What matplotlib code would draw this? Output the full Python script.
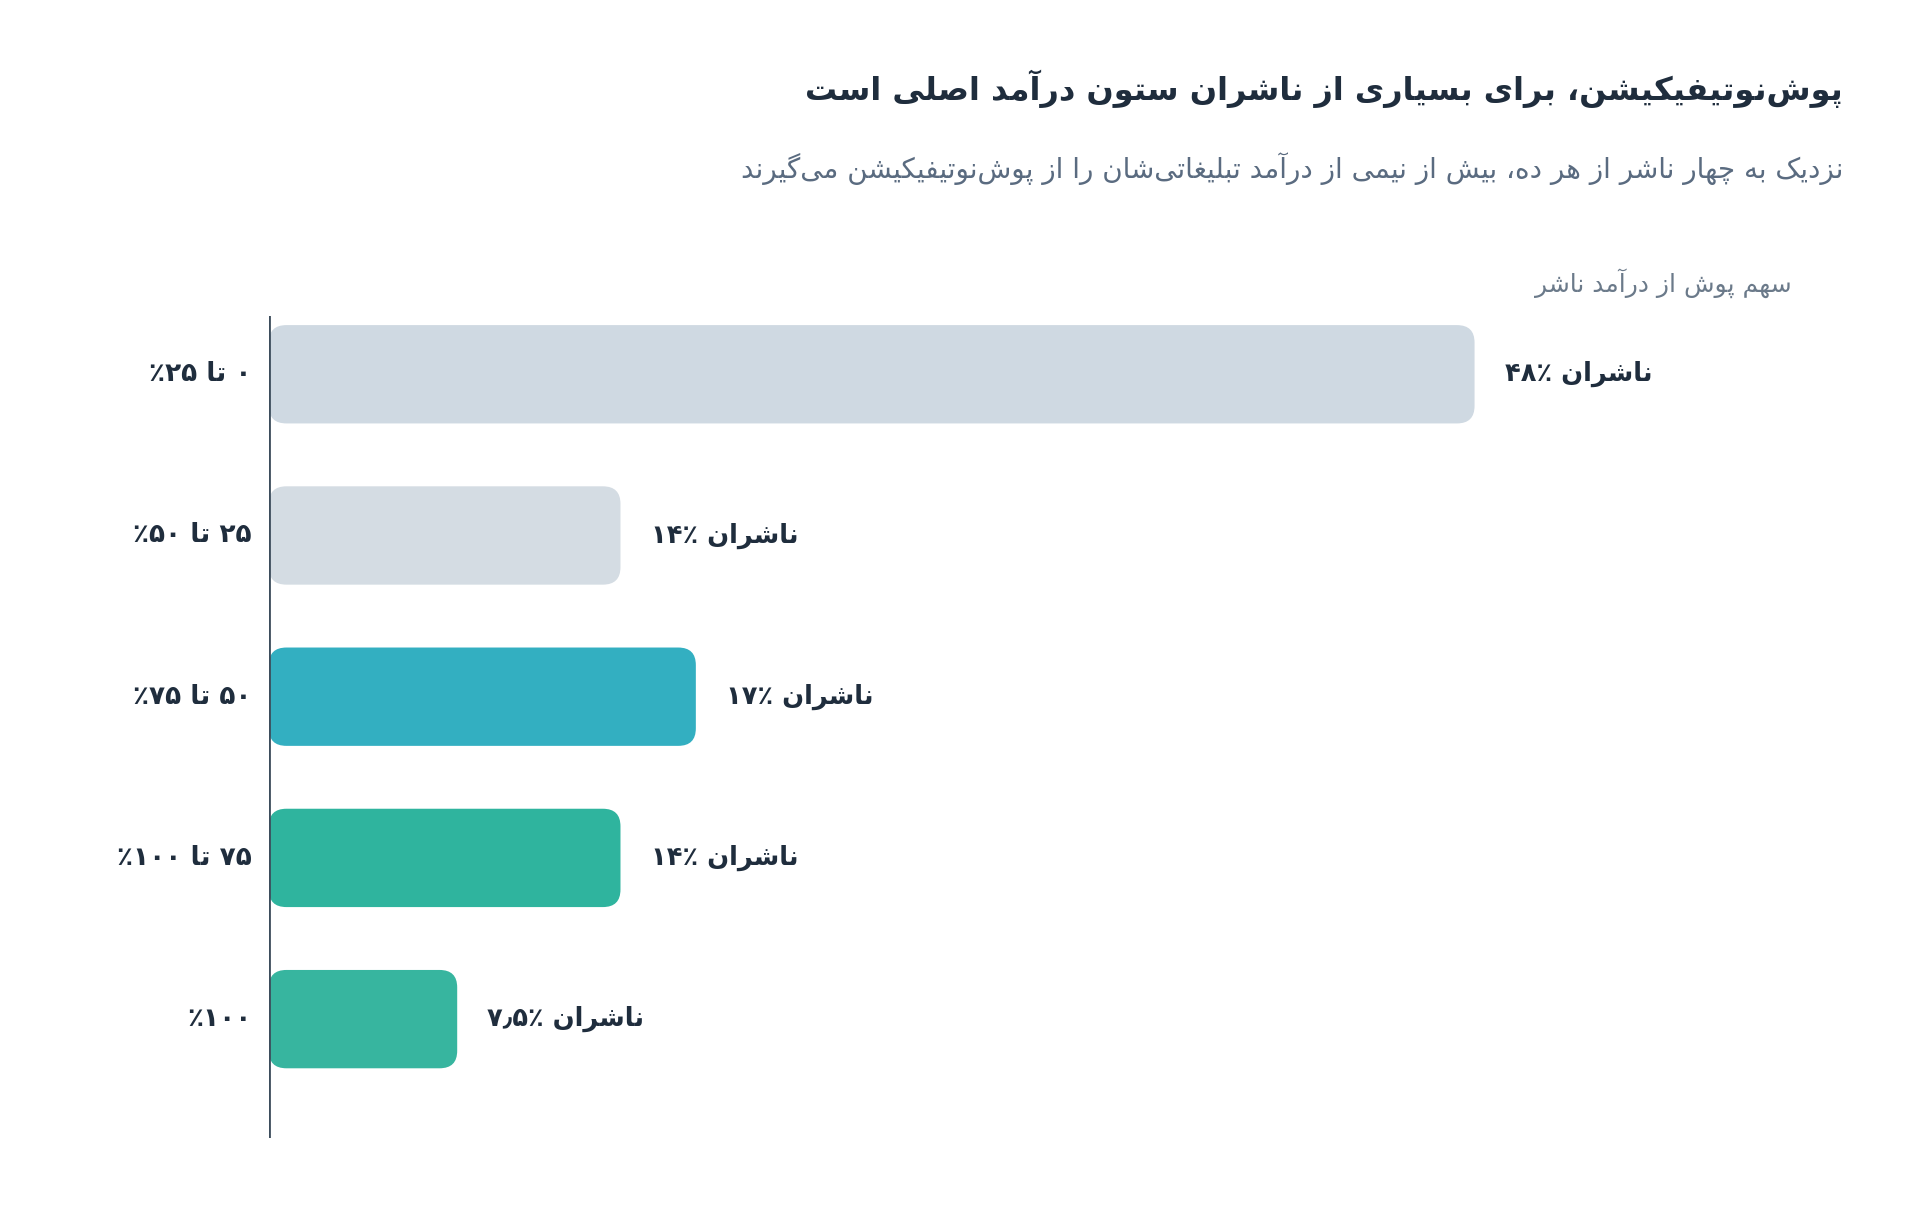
import matplotlib
import numpy as np
from matplotlib import pyplot as plt
from matplotlib.patches import FancyBboxPatch

matplotlib.use("Agg")
plt.rcParams["font.family"] = ["DejaVu Sans"]

# Data
categories = ["۰ تا ۲۵٪", "۲۵ تا ۵۰٪", "۵۰ تا ۷۵٪", "۷۵ تا ۱۰۰٪", "۱۰۰٪"]
values = [48, 14, 17, 14, 7.5]
value_labels = ["ناشران ٪۴۸", "ناشران ٪۱۴", "ناشران ٪۱۷", "ناشران ٪۱۴", "ناشران ٪۷٫۵"]
bar_colors = ["#cfd9e2", "#d4dce3", "#33afc1", "#2fb49e", "#37b59f"]
title = "پوش‌نوتیفیکیشن، برای بسیاری از ناشران ستون درآمد اصلی است"
subtitle = "نزدیک به چهار ناشر از هر ده، بیش از نیمی از درآمد تبلیغاتی‌شان را از پوش‌نوتیفیکیشن می‌گیرند"
axis_label = "سهم پوش از درآمد ناشر"

# minimal Arabic/Persian shaping: (isolated, final, initial, medial)
FORMS = {
    "ا": (0xFE8D, 0xFE8E, None, None), "آ": (0xFE81, 0xFE82, None, None),
    "ب": (0xFE8F, 0xFE90, 0xFE91, 0xFE92), "پ": (0xFB56, 0xFB57, 0xFB58, 0xFB59),
    "ت": (0xFE95, 0xFE96, 0xFE97, 0xFE98), "ث": (0xFE99, 0xFE9A, 0xFE9B, 0xFE9C),
    "ج": (0xFE9D, 0xFE9E, 0xFE9F, 0xFEA0), "چ": (0xFB7A, 0xFB7B, 0xFB7C, 0xFB7D),
    "ح": (0xFEA1, 0xFEA2, 0xFEA3, 0xFEA4), "خ": (0xFEA5, 0xFEA6, 0xFEA7, 0xFEA8),
    "د": (0xFEA9, 0xFEAA, None, None), "ذ": (0xFEAB, 0xFEAC, None, None),
    "ر": (0xFEAD, 0xFEAE, None, None), "ز": (0xFEAF, 0xFEB0, None, None),
    "ژ": (0xFB8A, 0xFB8B, None, None),
    "س": (0xFEB1, 0xFEB2, 0xFEB3, 0xFEB4), "ش": (0xFEB5, 0xFEB6, 0xFEB7, 0xFEB8),
    "ص": (0xFEB9, 0xFEBA, 0xFEBB, 0xFEBC), "ض": (0xFEBD, 0xFEBE, 0xFEBF, 0xFEC0),
    "ط": (0xFEC1, 0xFEC2, 0xFEC3, 0xFEC4), "ظ": (0xFEC5, 0xFEC6, 0xFEC7, 0xFEC8),
    "ع": (0xFEC9, 0xFECA, 0xFECB, 0xFECC), "غ": (0xFECD, 0xFECE, 0xFECF, 0xFED0),
    "ف": (0xFED1, 0xFED2, 0xFED3, 0xFED4), "ق": (0xFED5, 0xFED6, 0xFED7, 0xFED8),
    "ک": (0xFB8E, 0xFB8F, 0xFB90, 0xFB91), "گ": (0xFB92, 0xFB93, 0xFB94, 0xFB95),
    "ل": (0xFEDD, 0xFEDE, 0xFEDF, 0xFEE0), "م": (0xFEE1, 0xFEE2, 0xFEE3, 0xFEE4),
    "ن": (0xFEE5, 0xFEE6, 0xFEE7, 0xFEE8), "و": (0xFEED, 0xFEEE, None, None),
    "ه": (0xFEE9, 0xFEEA, 0xFEEB, 0xFEEC), "ی": (0xFBFC, 0xFBFD, 0xFBFE, 0xFBFF),
}
DIGITS = set("۰۱۲۳۴۵۶۷۸۹٫0123456789.")


def shape(text):
    chars = list(text)
    out = []
    for i, ch in enumerate(chars):
        if ch == "\u200c":
            continue
        if ch not in FORMS:
            out.append(ch)
            continue
        prev = chars[i - 1] if i > 0 else None
        nxt = chars[i + 1] if i + 1 < len(chars) else None
        joins_prev = prev in FORMS and FORMS[prev][2] is not None
        joins_next = nxt in FORMS and FORMS[ch][2] is not None
        iso, fin, ini, med = FORMS[ch]
        if joins_prev and joins_next:
            code = med
        elif joins_prev:
            code = fin
        elif joins_next:
            code = ini
        else:
            code = iso
        out.append(chr(code))
    return "".join(out)


def rtl(text):
    shaped = shape(text)
    tokens = []
    for ch in shaped:
        if ch in DIGITS and tokens and tokens[-1][0] in DIGITS:
            tokens[-1] += ch
        else:
            tokens.append(ch)
    return "".join(reversed(tokens))


fig = plt.figure(figsize=(19.2, 12.11), dpi=100)
ax = fig.add_axes([0.140, 0.0606, 0.785, 0.6788])
ax.set_xlim(0, 60)
ax.set_ylim(4.735, -0.364)
ax.axis("off")
ax.axvline(0, color="#3d4d5c", lw=2)

y = np.arange(len(values))
height = 0.61
for yi, v, c, lab in zip(y, values, bar_colors, value_labels):
    patch = FancyBboxPatch((0, yi - height / 2), v, height,
                           boxstyle="round,pad=0,rounding_size=0.7",
                           mutation_aspect=0.155, fc=c, ec="none")
    ax.add_patch(patch)
    ax.text(v + 1.2, yi, rtl(lab), ha="left", va="center", fontsize=18.5,
            fontweight="bold", color="#1f2d3d")

for yi, cat in zip(y, categories):
    fig.text(0.131, 0.0606 + 0.6788 * (4.735 - yi) / 5.099, rtl(cat), ha="right",
             va="center", fontsize=19, fontweight="bold", color="#1f2d3d")

fig.text(0.960, 0.927, rtl(title), ha="right", va="center", fontsize=23,
         fontweight="bold", color="#1f2d3d")
fig.text(0.960, 0.861, rtl(subtitle), ha="right", va="center", fontsize=20,
         color="#5a6b80")
fig.text(0.933, 0.766, rtl(axis_label), ha="right", va="center", fontsize=18,
         color="#6b7a8a")

fig.savefig("out.png")
